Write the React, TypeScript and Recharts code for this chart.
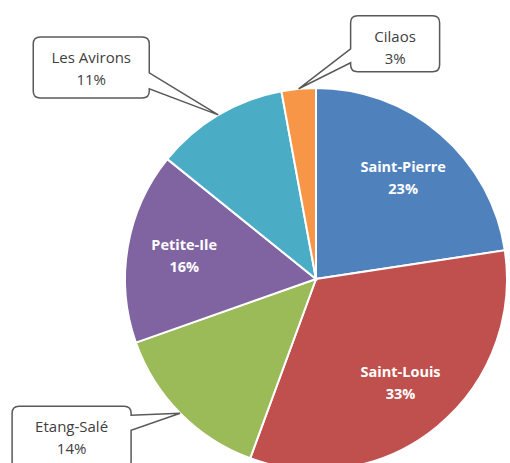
import { PieChart, Pie, Cell } from "recharts";

const communes = [
  "Saint-Pierre",
  "Saint-Louis",
  "Etang-Salé",
  "Petite-Ile",
  "Les Avirons",
  "Cilaos",
];
const shares = [22.6, 33.0, 14.0, 16.2, 11.3, 2.9];

const COLORS = ["#4F81BD", "#C0504D", "#9BBB59", "#8064A2", "#4BACC6", "#F79646"];

// callout boxes for the small slices (offset of box from the tip, box size, wedge side)
const CALLOUTS: Record<
  string,
  { dx: number; dy: number; w: number; h: number; side: "left" | "right"; b1: number; b2: number }
> = {
  "Les Avirons": { dx: -185, dy: -78, w: 116, h: 61, side: "right", b1: 36, b2: 52 },
  Cilaos: { dx: 52, dy: -73, w: 89, h: 56, side: "left", b1: 33, b2: 47 },
  "Etang-Salé": { dx: -168, dy: -7, w: 119, h: 62, side: "right", b1: 9, b2: 24 },
};

const RADIAN = Math.PI / 180;
const FONT = "'Open Sans', sans-serif";

const calloutPath = (
  x: number,
  y: number,
  w: number,
  h: number,
  side: "left" | "right",
  b1: number,
  b2: number,
  tx: number,
  ty: number
) => {
  const r = 7;
  let d = `M${x + r},${y} L${x + w - r},${y} Q${x + w},${y} ${x + w},${y + r}`;
  if (side === "right") {
    d += ` L${x + w},${y + b1} L${tx},${ty} L${x + w},${y + b2}`;
  }
  d += ` L${x + w},${y + h - r} Q${x + w},${y + h} ${x + w - r},${y + h}`;
  d += ` L${x + r},${y + h} Q${x},${y + h} ${x},${y + h - r}`;
  if (side === "left") {
    d += ` L${x},${y + b2} L${tx},${ty} L${x},${y + b1}`;
  }
  d += ` L${x},${y + r} Q${x},${y} ${x + r},${y} Z`;
  return d;
};

const renderLabel = (props: any) => {
  const { cx, cy, midAngle, outerRadius, percent, name } = props;
  const pct = `${Math.round(percent * 100)}%`;
  const cos = Math.cos(-midAngle * RADIAN);
  const sin = Math.sin(-midAngle * RADIAN);
  const c = CALLOUTS[name];
  if (c) {
    const tx = cx + outerRadius * cos;
    const ty = cy + outerRadius * sin;
    const bx = tx + c.dx;
    const by = ty + c.dy;
    const mx = bx + c.w / 2;
    return (
      <g>
        <path
          d={calloutPath(bx, by, c.w, c.h, c.side, c.b1, c.b2, tx, ty)}
          fill="#FFFFFF"
          stroke="#595959"
          strokeWidth={1.5}
        />
        <text x={mx} y={by + 26} textAnchor="middle" fill="#404040" fontSize={15} fontFamily={FONT}>
          {name}
        </text>
        <text x={mx} y={by + 48} textAnchor="middle" fill="#404040" fontSize={15} fontFamily={FONT}>
          {pct}
        </text>
      </g>
    );
  }
  const r = outerRadius * 0.7;
  const x = cx + r * cos;
  const y = cy + r * sin;
  return (
    <g>
      <text x={x} y={y - 6} textAnchor="middle" fill="#FFFFFF" fontSize={14.5} fontWeight="bold" fontFamily={FONT}>
        {name}
      </text>
      <text x={x} y={y + 16} textAnchor="middle" fill="#FFFFFF" fontSize={14.5} fontWeight="bold" fontFamily={FONT}>
        {pct}
      </text>
    </g>
  );
};

const App = () => {
  const chartData = communes.map((name, i) => ({ name, value: shares[i] }));

  return (
    <div style={{ width: 510, height: 463, background: "#FFFFFF", overflow: "hidden" }}>
      <style>{`html, body { margin: 0; padding: 0; overflow: hidden; }`}</style>
      <PieChart width={510} height={463} margin={{ top: 0, right: 0, bottom: 0, left: 0 }}>
        <Pie
          data={chartData}
          dataKey="value"
          nameKey="name"
          cx={316}
          cy={279}
          outerRadius={191}
          startAngle={90}
          endAngle={-270}
          stroke="#FFFFFF"
          strokeWidth={2}
          label={renderLabel}
          labelLine={false}
          isAnimationActive={false}
        >
          {chartData.map((entry, index) => (
            <Cell key={entry.name} fill={COLORS[index % COLORS.length]} />
          ))}
        </Pie>
      </PieChart>
    </div>
  );
};

export default App;
